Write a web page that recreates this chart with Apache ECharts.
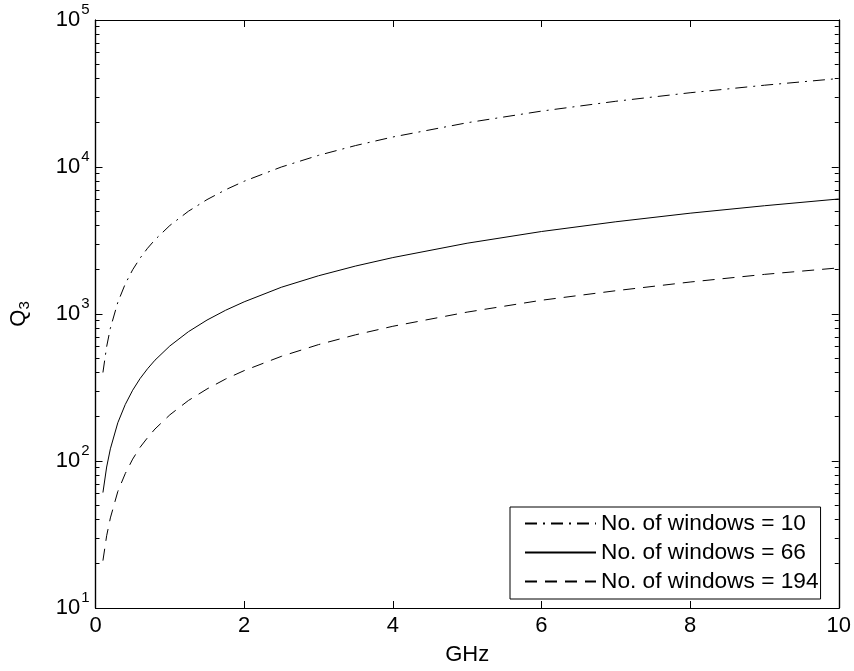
<!DOCTYPE html>
<html>
<head>
<meta charset="utf-8">
<script src="https://cdn.jsdelivr.net/npm/echarts@6/dist/echarts.min.js"></script>
<style>html,body{margin:0;padding:0;background:#fff}#c{width:854px;height:671px}</style>
</head>
<body>
<div id="c"></div>
<script>
// Frequency samples (GHz)
const freq = [0.1,0.15,0.2,0.3,0.4,0.5,0.6,0.7,0.8,1,1.25,1.5,1.75,2,2.5,3,3.5,4,5,6,7,8,9,10];
// Q3 values
const q10  = [400,600,800,1200,1600,2000,2400,2800,3200,4000,5000,6000,7000,8000,10000,12000,14000,16000,20000,24000,28000,32000,36000,40000];
const q66  = [61,91,121,182,242,303,364,424,485,606,758,909,1060,1210,1520,1820,2120,2420,3030,3640,4240,4850,5450,6060];
const q194 = [21,31,41,62,82,103,124,144,165,206,258,309,361,412,515,619,722,825,1030,1240,1440,1650,1860,2060];
const seriesNames = ['No. of windows = 10','No. of windows = 66','No. of windows = 194'];
const xTicks = [0,2,4,6,8,10];
const yMajor = [10,100,1000,10000,100000];
const yMinor = [];
for (let k = 1; k < 5; k++) for (let m = 2; m <= 9; m++) yMinor.push(m * Math.pow(10, k));

const font = '"Liberation Sans", Arial, Helvetica, sans-serif';
const FS = 22;
const pair = (xs, ys) => xs.map((x, i) => [x, ys[i]]);

const chart = echarts.init(document.getElementById('c'));
const yBase = {
  type: 'log', logBase: 10, min: 10, max: 100000,
  splitLine: {show: false},
  axisLine: {show: true, lineStyle: {color: '#000', width: 1.2}},
};
const clear = 'rgba(0,0,0,0)';
chart.setOption({
  animation: false,
  backgroundColor: '#fff',
  grid: {left: 95, right: 14, top: 20, bottom: 62, containLabel: false},
  legend: {
    orient: 'vertical', left: 510, top: 507,
    data: seriesNames,
    itemWidth: 71, itemHeight: 14, itemGap: 6,
    backgroundColor: '#fff',
    borderColor: '#000', borderWidth: 1, borderRadius: 0,
    padding: [5, 2, 6, 14],
    itemStyle: {color: clear, borderColor: clear, borderWidth: 0},
    textStyle: {fontFamily: font, fontSize: 22.7, color: '#000', padding: [0, 0, 0, 0]}
  },
  xAxis: [{
    type: 'value', min: 0, max: 10, interval: 2, position: 'bottom',
    name: 'GHz', nameLocation: 'middle', nameGap: 36,
    nameTextStyle: {fontFamily: font, fontSize: FS, color: '#000'},
    axisLine: {show: true, onZero: false, lineStyle: {color: '#000', width: 1.2}},
    axisTick: {show: true, inside: true, length: 7, lineStyle: {color: '#000'}},
    axisLabel: {fontFamily: font, fontSize: FS, color: '#000', margin: 7},
    splitLine: {show: false}
  }, {
    type: 'value', min: 0, max: 10, interval: 2, position: 'top',
    axisLine: {show: true, onZero: false, lineStyle: {color: '#000', width: 1.2}},
    axisTick: {show: true, inside: true, length: 7, lineStyle: {color: '#000'}},
    axisLabel: {show: false}, splitLine: {show: false}
  }],
  yAxis: [Object.assign({}, yBase, {
    position: 'left',
    name: '{q|Q}{s|3}', nameLocation: 'middle', nameGap: 63, nameRotate: 90,
    nameTextStyle: {rich: {
      q: {fontFamily: font, fontSize: FS, color: '#000'},
      s: {fontFamily: font, fontSize: 15, color: '#000', padding: [12, 0, 0, 0]}
    }},
    axisTick: {show: true, inside: true, length: 7, lineStyle: {color: '#000'}, customValues: yMajor},
    axisLabel: {
      customValues: yMajor, margin: 6,
      formatter: v => '{b|10}{e|' + Math.round(Math.log10(v)) + '}',
      rich: {
        b: {fontFamily: font, fontSize: FS, color: '#000'},
        e: {fontFamily: font, fontSize: 15, color: '#000', padding: [0, 0, 20, 1]}
      }
    }
  }), Object.assign({}, yBase, {
    position: 'left',
    axisTick: {show: true, inside: true, length: 4, lineStyle: {color: '#000'}, customValues: yMinor},
    axisLabel: {show: false}
  }), Object.assign({}, yBase, {
    position: 'right',
    axisTick: {show: true, inside: true, length: 7, lineStyle: {color: '#000'}, customValues: yMajor},
    axisLabel: {show: false}
  }), Object.assign({}, yBase, {
    position: 'right',
    axisTick: {show: true, inside: true, length: 4, lineStyle: {color: '#000'}, customValues: yMinor},
    axisLabel: {show: false}
  })],
  series: [{
    name: seriesNames[0], type: 'line', symbol: 'none', showSymbol: false,
    data: pair(freq, q10),
    lineStyle: {color: '#000', width: 1, type: [12, 6, 2, 6]},
    itemStyle: {color: clear}
  }, {
    name: seriesNames[1], type: 'line', symbol: 'none', showSymbol: false,
    data: pair(freq, q66),
    lineStyle: {color: '#000', width: 1, type: 'solid'},
    itemStyle: {color: clear}
  }, {
    name: seriesNames[2], type: 'line', symbol: 'none', showSymbol: false,
    data: pair(freq, q194),
    lineStyle: {color: '#000', width: 1, type: [12, 8]},
    itemStyle: {color: clear}
  }]
});
</script>
</body>
</html>
